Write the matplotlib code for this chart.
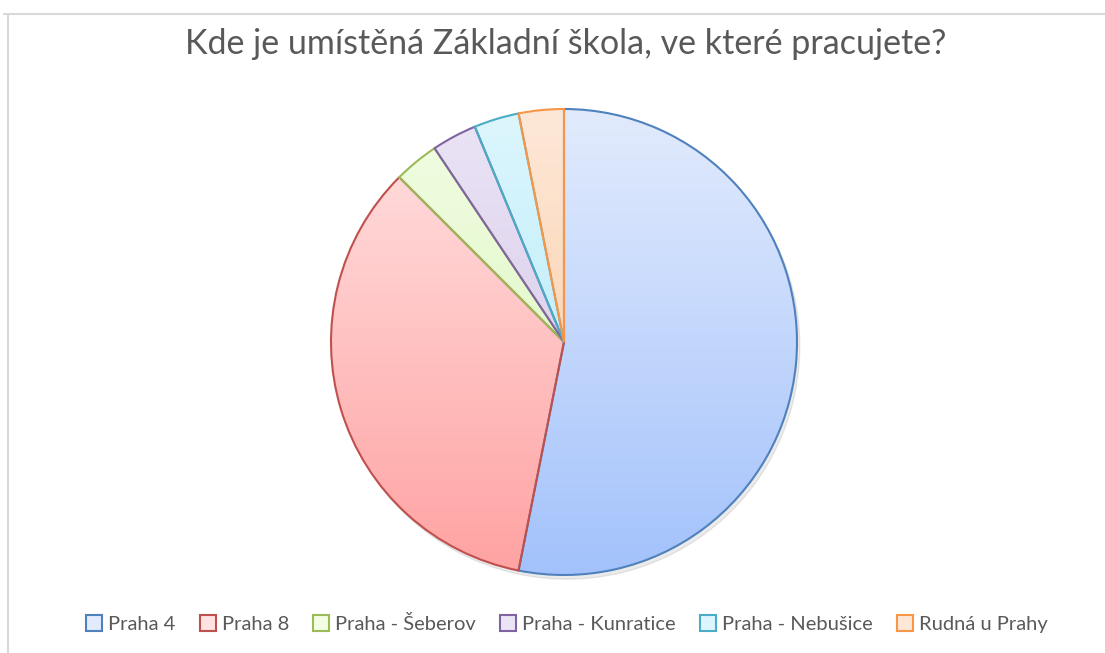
import numpy as np
import matplotlib.pyplot as plt
from matplotlib.patches import Patch
from matplotlib.colors import LinearSegmentedColormap

plt.rcParams['font.family'] = ['Lato', 'DejaVu Sans']

labels = ['Praha 4', 'Praha 8', 'Praha - Šeberov', 'Praha - Kunratice', 'Praha - Nebušice', 'Rudná u Prahy']
counts = [17, 11, 1, 1, 1, 1]
edge_colors = ['#4f81bd', '#c0504d', '#9bbb59', '#8064a2', '#4bacc6', '#f79646']
top_colors = ['#e2ebfd', '#ffe2e2', '#f2fde4', '#ebe4f5', '#ddf6fd', '#fde8d8']
bottom_colors = ['#a3c2fb', '#ffa2a2', '#d5f4b5', '#cfc1e6', '#a8e8f9', '#fbc597']
title = 'Kde je umístěná Základní škola, ve které pracujete?'

W, H = 1105, 653
fig = plt.figure(figsize=(W / 100, H / 100), dpi=100)

# light frame lines (top + left)
fig.add_artist(plt.Line2D([4 / W, 1.0], [1 - 14 / H, 1 - 14 / H], color='#d9d9d9', lw=1.5))
fig.add_artist(plt.Line2D([8 / W, 8 / W], [0, 1 - 14 / H], color='#d9d9d9', lw=1.5))

cx, cy, r = 564, 342, 233 * 1.02
ax = fig.add_axes([(cx - r) / W, (H - cy - r) / H, 2 * r / W, 2 * r / H])

wedges, _ = ax.pie(counts, startangle=90, counterclock=False, radius=1,
                   wedgeprops=dict(linewidth=1.5))

# soft shadow
shadow = plt.Circle((0.012, -0.018), 1.0, color='#000000', alpha=0.08, zorder=0)
ax.add_patch(shadow)

yy = np.linspace(1, 0, 256).reshape(-1, 1)
for w, ec, tc, bc in zip(wedges, edge_colors, top_colors, bottom_colors):
    w.set_facecolor('none')
    w.set_edgecolor(ec)
    w.set_zorder(3)
    cmap = LinearSegmentedColormap.from_list('g', [bc, tc])
    im = ax.imshow(yy, cmap=cmap, extent=(-1, 1, -1, 1), origin='upper',
                   aspect='auto', zorder=2, vmin=0, vmax=1)
    im.set_clip_path(w)

ax.set_xlim(-1.02, 1.02)
ax.set_ylim(-1.02, 1.02)
ax.set_aspect('equal')
ax.axis('off')

fig.text(566 / W, 1 - 44 / H, title, ha='center', va='center', fontsize=24.5, color='#595959')

handles = [Patch(facecolor=tc, edgecolor=ec, linewidth=1.5) for tc, ec in zip(top_colors, edge_colors)]
fig.legend(handles, labels, loc='center', bbox_to_anchor=(567 / W, 1 - 624 / H), ncol=6,
           frameon=False, fontsize=14.5, labelcolor='#595959', handlelength=0.8, handleheight=0.8,
           handletextpad=0.3, columnspacing=1.2)

fig.savefig('out.png', dpi=100)
